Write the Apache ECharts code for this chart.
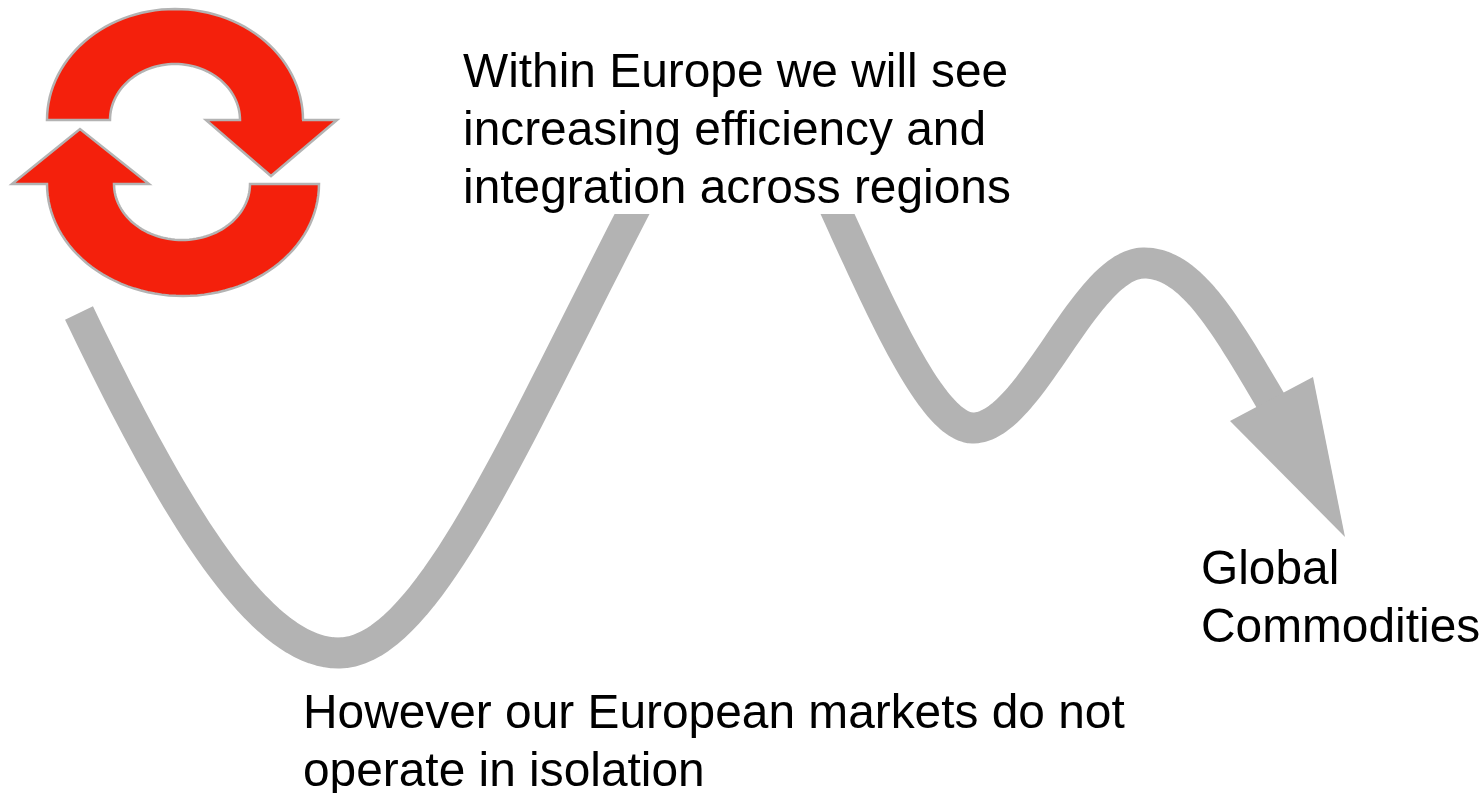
<!DOCTYPE html>
<html><head><meta charset="utf-8">
<style>html,body{margin:0;padding:0;background:#fff}#c{width:1483px;height:793px}</style>
<script src="https://cdn.jsdelivr.net/npm/echarts@6/dist/echarts.min.js"></script>
</head><body><div id="c"></div>
<script>
// bezier runs: anchor, control, control, anchor, control, control, anchor ...
const curveLeft = [[79,313],[165,492],[255,654],[339,653],[430,652],[521,424],[655,170]];
const curveRight = [[822,180],[875,295],[930,428],[973,428],[1030,428],[1085,263],[1144,263],[1195,263],[1231,335],[1285,425]];
const arrowHead = [[1230,421],[1313,377],[1345,537]];
const textMask = [[455,40],[1020,214]];
// each arc: centre x, centre y, rx, ry, start side (-1 left, 1 right), vertical direction (-1 over top, 1 under bottom)
const arcsUpper = [[175,120,65,56,-1,-1],[175,120,128,111,1,-1]];
const headUpper = [[239,120],[206,120],[271,176],[337,120],[302,120]];
const arcsLower = [[183,184,136,112,1,1],[182,184,68,56,-1,1]];
const headLower = [[47,184],[12,184],[80,129],[149,184],[114,184]];
const labels = [
  ['Within Europe we will see',463,74],
  ['increasing efficiency and',463,132],
  ['integration across regions',463,190],
  ['However our European markets do not',303,715],
  ['operate in isolation',303,773],
  ['Global',1201,571],
  ['Commodities',1201,629]
];
const GREY = '#b3b3b3', RED = '#f4200c';

function arcPoints(a){
  const [cx,cy,rx,ry,side,dir] = a, pts = [], n = 60;
  for(let i=0;i<=n;i++){ const t=Math.PI*i/n; pts.push([cx+side*rx*Math.cos(t), cy+dir*ry*Math.sin(t)]); }
  return pts;
}
function bezierPoints(c){
  const pts=[c[0]], n=40;
  for(let s=0;s+3<c.length;s+=3){
    for(let i=1;i<=n;i++){
      const t=i/n,u=1-t,w=[u*u*u,3*u*u*t,3*u*t*t,t*t*t];
      pts.push([0,1].map(k=>w[0]*c[s][k]+w[1]*c[s+1][k]+w[2]*c[s+2][k]+w[3]*c[s+3][k]));
    }
  }
  return pts;
}
function poly(pts, api, style){
  return {type:'polygon', shape:{points:pts.map(p=>api.coord(p))}, style};
}
const chart = echarts.init(document.getElementById('c'), null, {renderer:'canvas'});
chart.setOption({
  animation:false, backgroundColor:'#fff',
  grid:{left:0,right:0,top:0,bottom:0},
  xAxis:{type:'value',min:0,max:1483,show:false},
  yAxis:{type:'value',min:0,max:793,inverse:true,show:false},
  series:[
    {type:'custom',coordinateSystem:'cartesian2d',z:2,silent:true,data:[0,1],clip:false,
      renderItem:(p,api)=>({type:'polyline',
        shape:{points:bezierPoints(p.dataIndex?curveRight:curveLeft).map(q=>api.coord(q))},
        style:{fill:null,stroke:GREY,lineWidth:31,lineCap:'butt',lineJoin:'round'}})},
    {type:'custom',coordinateSystem:'cartesian2d',z:3,silent:true,data:[0],clip:false,
      renderItem:(p,api)=>poly(arrowHead,api,{fill:GREY})},
    {type:'custom',coordinateSystem:'cartesian2d',z:4,silent:true,data:[0],clip:false,
      renderItem:(p,api)=>{const a=api.coord(textMask[0]),b=api.coord(textMask[1]);
        return {type:'rect',shape:{x:a[0],y:a[1],width:b[0]-a[0],height:b[1]-a[1]},style:{fill:'#fff'}};}},
    {type:'custom',coordinateSystem:'cartesian2d',z:5,silent:true,data:[0,1],clip:false,
      renderItem:(p,api)=>{
        const i=p.dataIndex, arcs=i?arcsLower:arcsUpper, head=i?headLower:headUpper;
        const pts=[...arcPoints(arcs[0]),...head,...arcPoints(arcs[1])];
        return poly(pts,api,{fill:RED,stroke:GREY,lineWidth:2.5,lineJoin:'miter'});
      }},
    {type:'custom',coordinateSystem:'cartesian2d',z:6,silent:true,data:labels.map((l,i)=>[i]),clip:false,
      renderItem:(p,api)=>{
        const l=labels[p.dataIndex], c=api.coord([l[1],l[2]]);
        return {type:'text',x:c[0],y:c[1],style:{text:l[0],fill:'#000',font:'47.85px "Liberation Sans", Arial, sans-serif',textAlign:'left',textVerticalAlign:'middle'}};
      }}
  ]
});
</script></body></html>
